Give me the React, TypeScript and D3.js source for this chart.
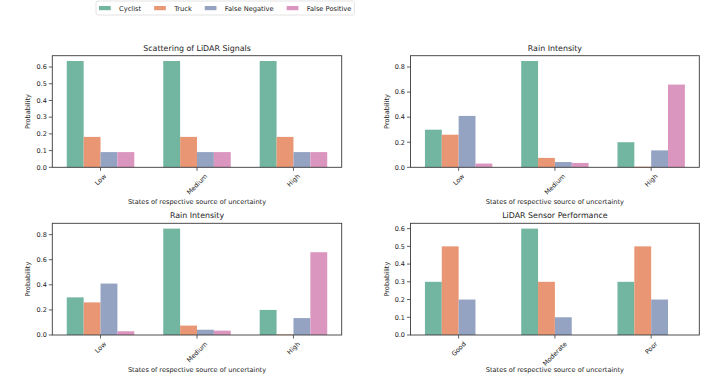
import React from 'react';
import * as d3 from 'd3';

// legend / series
const series = ['Cyclist', 'Truck', 'False Negative', 'False Positive'];
const palette = ['#66c2a5', '#fc8d62', '#8da0cb', '#e78ac3'];

const levelStates = ['Low', 'Medium', 'High'];
const sensorStates = ['Good', 'Moderate', 'Poor'];

// Scattering of LiDAR Signals
const scatterCyclist = [0.636, 0.636, 0.636];
const scatterTruck = [0.182, 0.182, 0.182];
const scatterFalseNeg = [0.091, 0.091, 0.091];
const scatterFalsePos = [0.091, 0.091, 0.091];

// Rain Intensity
const rainCyclist = [0.30, 0.848, 0.20];
const rainTruck = [0.26, 0.075, 0.005];
const rainFalseNeg = [0.41, 0.042, 0.135];
const rainFalsePos = [0.03, 0.035, 0.66];

// LiDAR Sensor Performance
const sensorCyclist = [0.3, 0.6, 0.3];
const sensorTruck = [0.5, 0.3, 0.5];
const sensorFalseNeg = [0.2, 0.1, 0.2];
const sensorFalsePos = [0, 0, 0];

const scatterTicks = [0, 0.1, 0.2, 0.3, 0.4, 0.5, 0.6];
const rainTicks = [0, 0.2, 0.4, 0.6, 0.8];
const sensorTicks = [0, 0.1, 0.2, 0.3, 0.4, 0.5, 0.6];

const FONT = 'DejaVu Sans, sans-serif';

// seaborn-style desaturation of the palette
const colors = palette.map(c => {
  const h = d3.hsl(c);
  h.s *= 0.75;
  return h.formatHex();
});

let ctx: CanvasRenderingContext2D | null = null;
function measure(text: string, size: number): number {
  if (!ctx) ctx = document.createElement('canvas').getContext('2d');
  if (!ctx) return text.length * size * 0.6;
  ctx.font = `${size}px DejaVu Sans`;
  return ctx.measureText(text).width;
}

interface PanelProps {
  title: string;
  states: string[];
  values: number[][];
  ticks: number[];
  box: { left: number; right: number; top: number; bottom: number };
}

const Panel: React.FC<PanelProps> = ({ title, states, values, ticks, box }) => {
  const maxV = d3.max(values.flat()) || 1;
  const x = d3.scaleLinear().domain([-0.5, states.length - 0.5]).range([box.left, box.right]);
  const y = d3.scaleLinear().domain([0, maxV * 1.05]).range([box.bottom, box.top]);
  const barW = 0.175;
  const nS = values.length;
  const cx = (box.left + box.right) / 2;
  const tickFs = 6.5;

  return (
    <g>
      {values.map((vals, si) =>
        vals.map((v, i) => {
          const x0 = i - (nS * barW) / 2 + si * barW;
          return (
            <rect
              key={`${si}-${i}`}
              x={x(x0)}
              width={x(x0 + barW) - x(x0)}
              y={y(v)}
              height={y(0) - y(v)}
              fill={colors[si]}
            />
          );
        })
      )}
      <rect x={box.left} y={box.top} width={box.right - box.left} height={box.bottom - box.top}
        fill="none" stroke="#3a3a3a" strokeWidth={0.9} />
      {ticks.map(t => (
        <g key={t}>
          <line x1={box.left - 3.5} x2={box.left} y1={y(t)} y2={y(t)} stroke="#3a3a3a" strokeWidth={0.8} />
          <text x={box.left - 5.5} y={y(t)} dy="0.35em" textAnchor="end" fontSize={tickFs} fill="#222">
            {t.toFixed(1)}
          </text>
        </g>
      ))}
      {states.map((s, i) => {
        const w = measure(s, tickFs);
        const h = tickFs * 1.0;
        const bh = (w + h) / Math.SQRT2;
        return (
          <g key={s}>
            <line x1={x(i)} x2={x(i)} y1={box.bottom} y2={box.bottom + 3.5} stroke="#3a3a3a" strokeWidth={0.8} />
            <text
              transform={`translate(${x(i)},${box.bottom + 5.5 + bh / 2}) rotate(-45)`}
              textAnchor="middle"
              dy="0.35em"
              fontSize={tickFs}
              fill="#222"
            >
              {s}
            </text>
          </g>
        );
      })}
      <text x={cx} y={box.top - 5} textAnchor="middle" fontSize={7.9} fill="#222">{title}</text>
      <text x={cx} y={box.bottom + 37} textAnchor="middle" fontSize={6.6} fill="#222">
        States of respective source of uncertainty
      </text>
      <text
        transform={`translate(${box.left - 22},${(box.top + box.bottom) / 2}) rotate(-90)`}
        textAnchor="middle"
        fontSize={6.6}
        fill="#222"
      >
        Probability
      </text>
    </g>
  );
};

const Legend: React.FC = () => {
  const fs = 6.7;
  const patchW = 11.7;
  let cur = 99;
  const items = series.map((s, i) => {
    const start = cur;
    cur = start + patchW + 8.3 + measure(s, fs) + 13;
    return { s, i, start };
  });
  return (
    <g>
      <rect x={96} y={1} width={cur - 13 + 3 - 96} height={14} rx={2} fill="white" stroke="#dcdcdc" strokeWidth={0.8} />
      {items.map(({ s, i, start }) => (
        <g key={s}>
          <rect x={start} y={6} width={patchW} height={4.2} fill={colors[i]} />
          <text x={start + patchW + 8.3} y={8.2} dy="0.35em" fontSize={fs} fill="#222">{s}</text>
        </g>
      ))}
    </g>
  );
};

export default function App() {
  return (
    <svg width={720} height={391} style={{ position: 'absolute', left: 0, top: 0, fontFamily: FONT }}>
      <rect width={720} height={391} fill="white" />
      <Legend />
      <Panel
        title="Scattering of LiDAR Signals"
        states={levelStates}
        values={[scatterCyclist, scatterTruck, scatterFalseNeg, scatterFalsePos]}
        ticks={scatterTicks}
        box={{ left: 52.3, right: 341.7, top: 55.7, bottom: 167.3 }}
      />
      <Panel
        title="Rain Intensity"
        states={levelStates}
        values={[rainCyclist, rainTruck, rainFalseNeg, rainFalsePos]}
        ticks={rainTicks}
        box={{ left: 410.5, right: 699.3, top: 55.7, bottom: 167.3 }}
      />
      <Panel
        title="Rain Intensity"
        states={levelStates}
        values={[rainCyclist, rainTruck, rainFalseNeg, rainFalsePos]}
        ticks={rainTicks}
        box={{ left: 52.3, right: 341.7, top: 223.3, bottom: 335 }}
      />
      <Panel
        title="LiDAR Sensor Performance"
        states={sensorStates}
        values={[sensorCyclist, sensorTruck, sensorFalseNeg, sensorFalsePos]}
        ticks={sensorTicks}
        box={{ left: 410.5, right: 699.3, top: 223.3, bottom: 335 }}
      />
    </svg>
  );
}
